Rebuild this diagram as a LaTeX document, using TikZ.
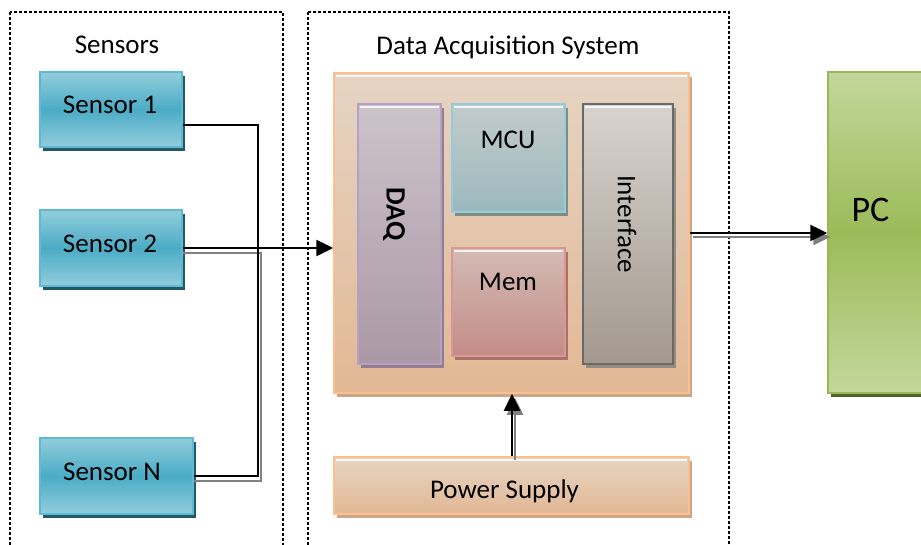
\documentclass[tikz,border=0pt]{standalone}
\usepackage{fontspec}
\setmainfont{Carlito}
\usetikzlibrary{arrows.meta,shadows}
\definecolor{tealA}{RGB}{146,205,220}
\definecolor{tealB}{RGB}{75,172,198}
\definecolor{tealBd}{RGB}{95,185,210}
\definecolor{tealSh}{RGB}{33,89,104}
\definecolor{tanA}{RGB}{230,212,196}
\definecolor{tanB}{RGB}{226,184,148}
\definecolor{tanBd}{RGB}{250,192,143}
\definecolor{tanSh}{RGB}{205,165,135}
\definecolor{purA}{RGB}{205,195,202}
\definecolor{purB}{RGB}{170,152,165}
\definecolor{purBd}{RGB}{179,162,199}
\definecolor{purSh}{RGB}{150,125,140}
\definecolor{cyaA}{RGB}{195,203,203}
\definecolor{cyaB}{RGB}{155,185,190}
\definecolor{cyaBd}{RGB}{147,205,221}
\definecolor{cyaSh}{RGB}{130,140,130}
\definecolor{memA}{RGB}{212,187,180}
\definecolor{memB}{RGB}{195,140,135}
\definecolor{memBd}{RGB}{220,150,150}
\definecolor{memSh}{RGB}{165,115,105}
\definecolor{gryA}{RGB}{216,211,206}
\definecolor{gryB}{RGB}{162,152,142}
\definecolor{gryBd}{RGB}{105,105,105}
\definecolor{grySh}{RGB}{150,140,130}
\definecolor{grnA}{RGB}{195,215,155}
\definecolor{grnB}{RGB}{155,187,89}
\definecolor{grnBd}{RGB}{150,185,85}
\definecolor{grnSh}{RGB}{79,98,40}
\definecolor{lineSh}{RGB}{128,128,128}
\tikzset{
  base box/.style={rectangle, inner sep=0pt, line width=1.5pt},
  sensorbox/.style={base box, draw=tealBd, top color=tealA, bottom color=tealA, middle color=tealB,
     general shadow={fill=tealSh, shadow xshift=3pt, shadow yshift=-4pt}},
  tanbox/.style={base box, draw=tanBd, top color=tanA, bottom color=tanB,
     general shadow={fill=tanSh, shadow xshift=3pt, shadow yshift=-4pt}},
  daqbox/.style={base box, draw=purBd, top color=purA, bottom color=purB,
     general shadow={fill=purSh, shadow xshift=3pt, shadow yshift=-4pt}},
  mcubox/.style={base box, draw=cyaBd, top color=cyaA, bottom color=cyaB,
     general shadow={fill=cyaSh, shadow xshift=3pt, shadow yshift=-4pt}},
  membox/.style={base box, draw=memBd, top color=memA, bottom color=memB,
     general shadow={fill=memSh, shadow xshift=3pt, shadow yshift=-4pt}},
  intfbox/.style={base box, draw=gryBd, top color=gryA, bottom color=gryB,
     general shadow={fill=grySh, shadow xshift=3pt, shadow yshift=-4pt}},
  pcbox/.style={base box, draw=grnBd, top color=grnA, bottom color=grnA, middle color=grnB,
     general shadow={fill=grnSh, shadow xshift=3pt, shadow yshift=-4pt}},
  lbl/.style={inner sep=0pt, anchor=base, font=\fontsize{27}{32}\selectfont},
  frame/.style={draw=black, line width=1.3pt, dash pattern=on 3pt off 2pt},
  conn/.style={draw=black, line width=2.5pt},
  connsh/.style={draw=lineSh, line width=2.5pt},
  tip/.style={-{Triangle[length=17pt,width=16pt]}},
  hl/.style={draw=white, line width=2pt, opacity=0.8}
}
\begin{document}
\begin{tikzpicture}[x=1pt,y=-1pt]
\useasboundingbox (0,0) rectangle (921,544);
% dashed frames
\draw[frame] (10,12) rectangle (283,560);
\draw[frame] (308,12) rectangle (729,560);
% sensors
\node[sensorbox, minimum width=142pt, minimum height=75pt] (s1) at (111,109.5) {};
\node[sensorbox, minimum width=142pt, minimum height=76pt] (s2) at (111,248) {};
\node[sensorbox, minimum width=153pt, minimum height=76pt] (sN) at (116.5,476) {};
\node[lbl] (tsens) at (117,53) {Sensors};
\node[lbl] (ts1) at (110,113) {Sensor 1};
\node[lbl] (ts2) at (110,252) {Sensor 2};
\node[lbl] (tsN) at (112,480) {Sensor N};
% DAS
\node[lbl] (tdas) at (508,54) {Data Acquisition System};
\node[tanbox, minimum width=355pt, minimum height=320pt] (das) at (511.5,233) {};
\draw[hl] (336,76) -- (687,76);
\node[daqbox, minimum width=83pt, minimum height=260pt] (daq) at (399.5,234) {};
\draw[hl] (360,107) -- (439,107);
\node[mcubox, minimum width=113pt, minimum height=108pt] (mcu) at (508.5,158) {};
\draw[hl] (454,107) -- (563,107);
\node[membox, minimum width=113pt, minimum height=108pt] (mem) at (508.5,302) {};
\draw[hl] (454,251) -- (563,251);
\node[intfbox, minimum width=90pt, minimum height=260pt] (intf) at (628,234) {};
\draw[hl] (585,107) -- (671,107);
\node[lbl, anchor=center, rotate=-90, font=\fontsize{28}{32}\selectfont\bfseries] (tdaq) at (394,214) {DAQ};
\node[lbl] (tmcu) at (508,148) {MCU};
\node[lbl] (tmem) at (508,290) {Mem};
\node[lbl, anchor=center, rotate=-90] (tintf) at (627,224) {Interface};
\node[tanbox, minimum width=355pt, minimum height=57pt] (pwr) at (511.5,485.5) {};
\draw[hl] (336,460) -- (687,460);
\node[lbl] (tpwr) at (504.5,498) {Power Supply};
% PC
\node[pcbox, minimum width=112pt, minimum height=321pt] (pc) at (884,232.5) {};
\node[lbl, font=\fontsize{36}{40}\selectfont] (tpc) at (870.5,221) {PC};
% connector coordinates
\coordinate (j1) at (258,125);
\coordinate (j2) at (258,248);
\coordinate (jN) at (258,476);
\coordinate (g2) at (261,253);
\coordinate (gN) at (261,481);
\coordinate (ja) at (700,233);
\coordinate (pa) at (512,420);
% shadows of connectors
\draw[connsh] (s2.east |- g2) -- (g2) -- (gN) -- (sN.east |- gN);
\draw[connsh, tip, fill=lineSh, transform canvas={shift={(3pt,-4pt)}}] (das.east |- ja) -- (pc.west |- ja);
\draw[connsh, tip, fill=lineSh, transform canvas={shift={(3pt,-4pt)}}] (pwr.north -| pa) -- (das.south -| pa);
% connectors
\draw[conn] (s1.east |- j1) -- (j1) -- (jN) -- (sN.east |- jN);
\draw[conn, tip] (s2.east |- j2) -- (das.west |- j2);
\draw[conn, tip] (das.east |- ja) -- (pc.west |- ja);
\draw[conn, tip] (pwr.north -| pa) -- (das.south -| pa);
\end{tikzpicture}
\end{document}
